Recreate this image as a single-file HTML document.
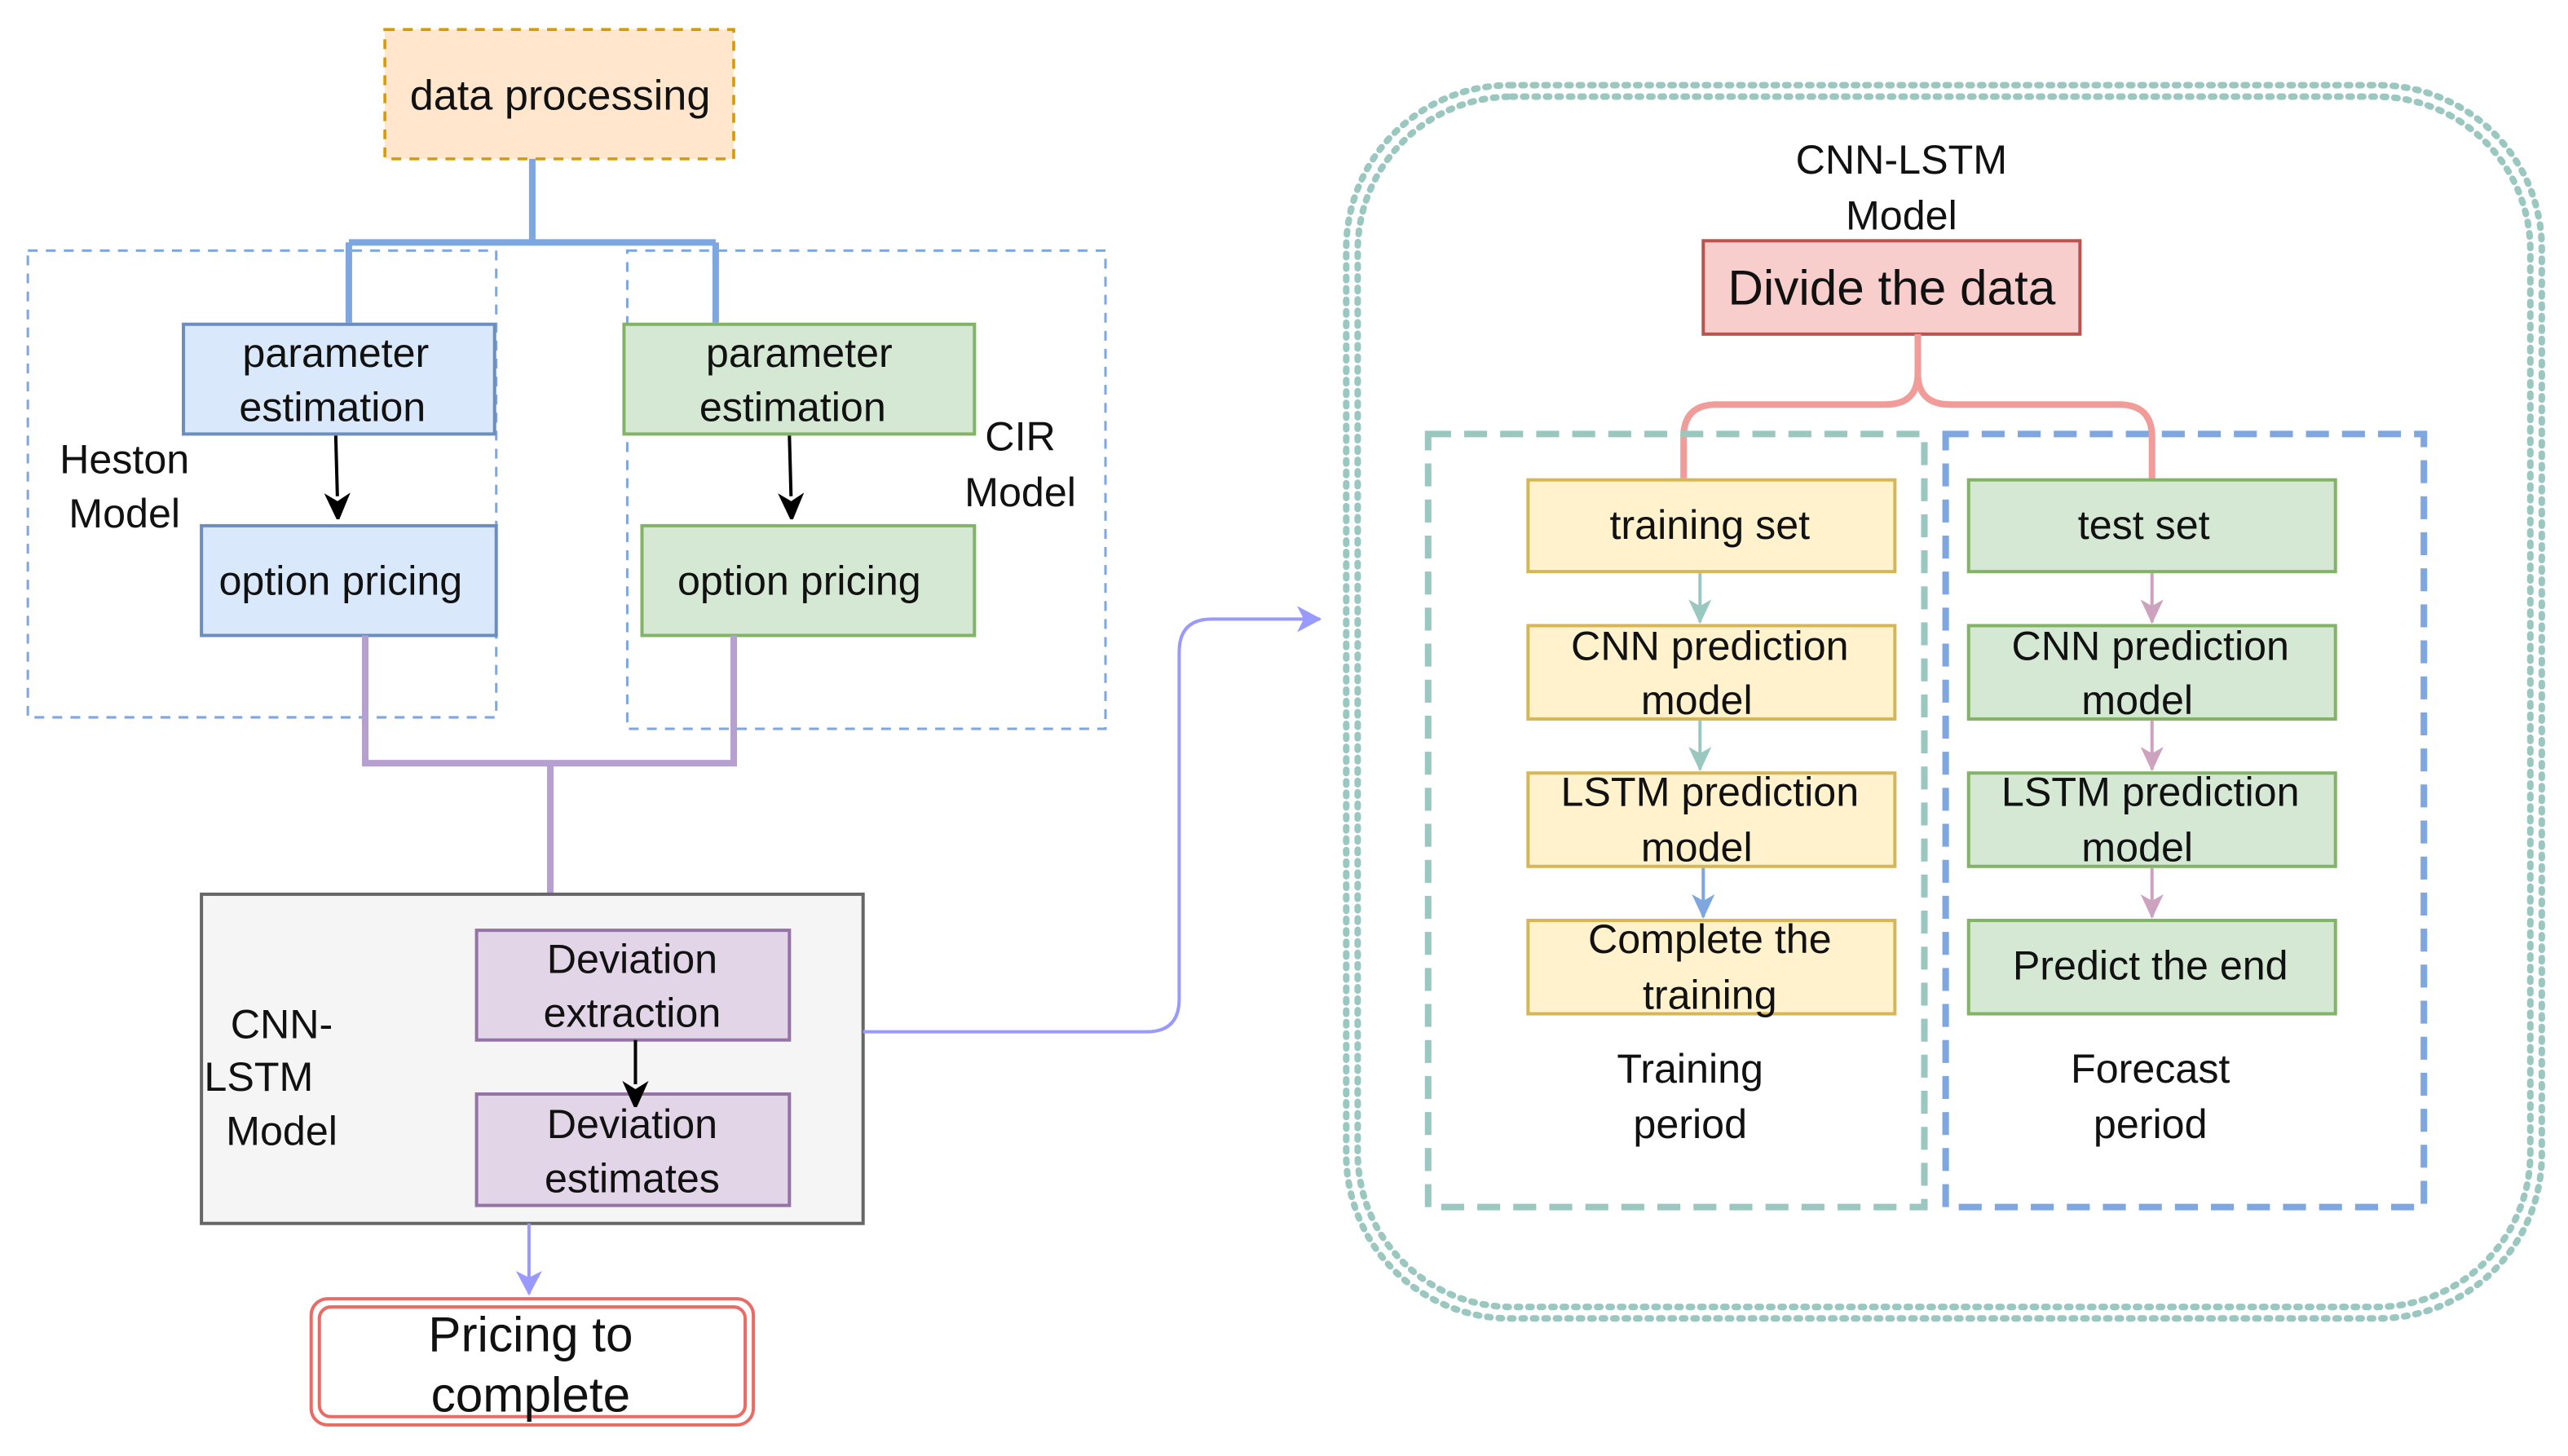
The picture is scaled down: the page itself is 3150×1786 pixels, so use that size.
<!DOCTYPE html>
<html><head><meta charset="utf-8"><style>
html,body{margin:0;padding:0;background:#fff;}
svg{display:block;}
text{font-family:"Liberation Sans",sans-serif;fill:#111;text-anchor:middle;}
</style></head><body>
<svg width="3150" height="1786" viewBox="0 0 1568 889" preserveAspectRatio="none" xmlns="http://www.w3.org/2000/svg">
<defs>
<marker id="ab" markerWidth="16" markerHeight="20" refX="2" refY="10" orient="auto" markerUnits="userSpaceOnUse"><path d="M0,2 L18,10 L0,18 L5,10 z" fill="#000"/></marker>
<marker id="at" markerWidth="16" markerHeight="16" refX="14" refY="8" orient="auto" markerUnits="userSpaceOnUse"><path d="M0,1 L15,8 L0,15 L4,8 z" fill="#9ac7bf"/></marker>
<marker id="abl" markerWidth="16" markerHeight="16" refX="14" refY="8" orient="auto" markerUnits="userSpaceOnUse"><path d="M0,1 L15,8 L0,15 L4,8 z" fill="#7ea6e0"/></marker>
<marker id="ap" markerWidth="16" markerHeight="16" refX="14" refY="8" orient="auto" markerUnits="userSpaceOnUse"><path d="M0,1 L15,8 L0,15 L4,8 z" fill="#cda2be"/></marker>
<marker id="al" markerWidth="16" markerHeight="16" refX="14" refY="8" orient="auto" markerUnits="userSpaceOnUse"><path d="M0,0 L15,8 L0,16 L4,8 z" fill="#9999ff"/></marker>
</defs>

<rect x="17" y="153" width="286" height="285" fill="none" stroke="#7ea6e0" stroke-width="1.5" stroke-dasharray="6 5"/>
<rect x="383" y="153" width="292" height="292" fill="none" stroke="#7ea6e0" stroke-width="1.5" stroke-dasharray="6 5"/>

<rect x="235" y="18" width="213" height="79" fill="#ffe6cc" stroke="#d79b00" stroke-width="1.8" stroke-dasharray="6 5"/>
<text x="342" y="67" font-size="26">data processing</text>

<path d="M325,97 V148 M213,148 H437 M213,148 V197 M437,148 V197" stroke="#7ea6e0" stroke-width="4" fill="none"/>

<rect x="112" y="198" width="190" height="67" fill="#dae8fc" stroke="#6c8ebf" stroke-width="2"/>
<text x="205" y="224" font-size="25">parameter</text>
<text x="203" y="257" font-size="25">estimation</text>
<rect x="381" y="198" width="214" height="67" fill="#d5e8d4" stroke="#82b366" stroke-width="2"/>
<text x="488" y="224" font-size="25">parameter</text>
<text x="484" y="257" font-size="25">estimation</text>

<line x1="205" y1="266" x2="206" y2="303" stroke="#000" stroke-width="2" marker-end="url(#ab)"/>
<line x1="482" y1="266" x2="483" y2="303" stroke="#000" stroke-width="2" marker-end="url(#ab)"/>

<rect x="123" y="321" width="180" height="67" fill="#dae8fc" stroke="#6c8ebf" stroke-width="2"/>
<text x="208" y="363" font-size="25">option pricing</text>
<rect x="392" y="321" width="203" height="67" fill="#d5e8d4" stroke="#82b366" stroke-width="2"/>
<text x="488" y="363" font-size="25">option pricing</text>

<text x="76" y="289" font-size="25">Heston</text>
<text x="76" y="322" font-size="25">Model</text>
<text x="623" y="275" font-size="25">CIR</text>
<text x="623" y="309" font-size="25">Model</text>

<path d="M223,388 V466 H448 V388 M336,466 V546" stroke="#b5a0d0" stroke-width="4" fill="none"/>

<rect x="123" y="546" width="404" height="201" fill="#f5f5f5" stroke="#666" stroke-width="2"/>
<text x="172" y="634" font-size="25">CNN-</text>
<text x="158" y="666" font-size="25">LSTM</text>
<text x="172" y="699" font-size="25">Model</text>

<rect x="291" y="568" width="191" height="67" fill="#e1d5e7" stroke="#9673a6" stroke-width="2"/>
<text x="386" y="594" font-size="25">Deviation</text>
<text x="386" y="627" font-size="25">extraction</text>
<rect x="291" y="668" width="191" height="68" fill="#e1d5e7" stroke="#9673a6" stroke-width="2"/>
<text x="386" y="695" font-size="25">Deviation</text>
<text x="386" y="728" font-size="25">estimates</text>
<line x1="388" y1="635" x2="388" y2="662" stroke="#000" stroke-width="2" marker-end="url(#ab)"/>

<line x1="323" y1="747" x2="323" y2="790" stroke="#9999ff" stroke-width="2" marker-end="url(#al)"/>
<rect x="190" y="793" width="270" height="77" rx="10" fill="#fff" stroke="#ea6b66" stroke-width="2"/>
<rect x="195" y="798" width="260" height="67" rx="7" fill="none" stroke="#ea6b66" stroke-width="2"/>
<text x="324" y="825" font-size="30">Pricing to</text>
<text x="324" y="862" font-size="30">complete</text>

<path d="M527,630 H700 Q720,630 720,610 V398 Q720,378 740,378 H806" stroke="#9999ff" stroke-width="2" fill="none" marker-end="url(#al)"/>

<rect x="822" y="52" width="730" height="753" rx="100" fill="none" stroke="#9ac7bf" stroke-width="4" stroke-dasharray="2 5" stroke-linecap="round"/>
<rect x="829" y="59" width="716" height="739" rx="94" fill="none" stroke="#9ac7bf" stroke-width="4" stroke-dasharray="2 5" stroke-linecap="round"/>

<text x="1161" y="106" font-size="25">CNN-LSTM</text>
<text x="1161" y="140" font-size="25">Model</text>
<rect x="1040" y="147" width="230" height="57" fill="#f8cecc" stroke="#b85450" stroke-width="2"/>
<text x="1155" y="186" font-size="30">Divide the data</text>

<path d="M1171,204 V228 Q1171,247 1151,247 H1048 Q1028,247 1028,267 V292 M1171,228 Q1171,247 1191,247 H1294 Q1314,247 1314,267 V292" stroke="#f19c99" stroke-width="4" fill="none"/>

<rect x="872" y="265" width="303" height="472" fill="none" stroke="#9ac7bf" stroke-width="4" stroke-dasharray="14 8"/>
<rect x="1188" y="265" width="292" height="472" fill="none" stroke="#7ea6e0" stroke-width="4" stroke-dasharray="14 8"/>

<g stroke="#d6b656" stroke-width="2" fill="#fff2cc">
<rect x="933" y="293" width="224" height="56"/>
<rect x="933" y="382" width="224" height="57"/>
<rect x="933" y="472" width="224" height="57"/>
<rect x="933" y="562" width="224" height="57"/>
</g>
<g stroke="#82b366" stroke-width="2" fill="#d5e8d4">
<rect x="1202" y="293" width="224" height="56"/>
<rect x="1202" y="382" width="224" height="57"/>
<rect x="1202" y="472" width="224" height="57"/>
<rect x="1202" y="562" width="224" height="57"/>
</g>
<line x1="1038" y1="350" x2="1038" y2="380" stroke="#9ac7bf" stroke-width="2" marker-end="url(#at)"/>
<line x1="1038" y1="440" x2="1038" y2="470" stroke="#9ac7bf" stroke-width="2" marker-end="url(#at)"/>
<line x1="1040" y1="530" x2="1040" y2="560" stroke="#7ea6e0" stroke-width="2" marker-end="url(#abl)"/>
<line x1="1314" y1="350" x2="1314" y2="380" stroke="#cda2be" stroke-width="2" marker-end="url(#ap)"/>
<line x1="1314" y1="440" x2="1314" y2="470" stroke="#cda2be" stroke-width="2" marker-end="url(#ap)"/>
<line x1="1314" y1="530" x2="1314" y2="560" stroke="#cda2be" stroke-width="2" marker-end="url(#ap)"/>

<g font-size="25">
<text x="1044" y="329">training set</text>
<text x="1044" y="403">CNN prediction</text>
<text x="1036" y="436">model</text>
<text x="1044" y="492">LSTM prediction</text>
<text x="1036" y="526">model</text>
<text x="1044" y="582">Complete the</text>
<text x="1044" y="616">training</text>
<text x="1309" y="329">test set</text>
<text x="1313" y="403">CNN prediction</text>
<text x="1305" y="436">model</text>
<text x="1313" y="492">LSTM prediction</text>
<text x="1305" y="526">model</text>
<text x="1313" y="598">Predict the end</text>
<text x="1032" y="661">Training</text>
<text x="1032" y="695">period</text>
<text x="1313" y="661">Forecast</text>
<text x="1313" y="695">period</text>
</g>
</svg>
</body></html>
